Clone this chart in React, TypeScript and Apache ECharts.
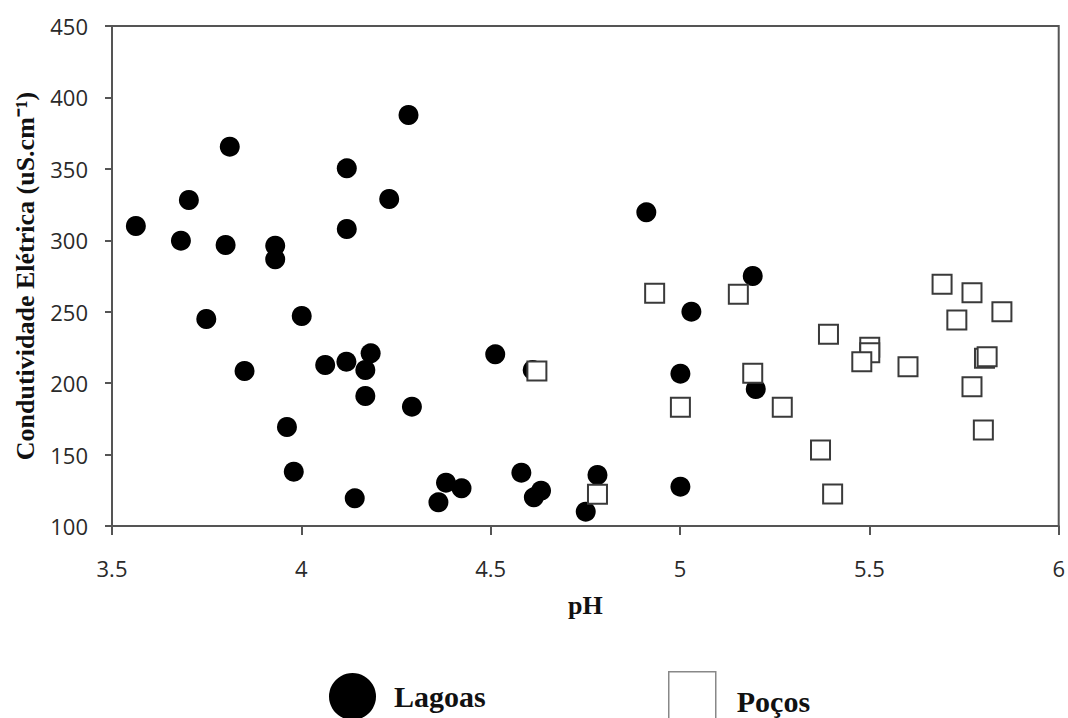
import React, { useEffect, useRef } from "react";
import * as echarts from "echarts";

const lagoasPH = [
  4.283, 3.811, 4.12, 3.703, 4.232, 3.563, 4.12, 3.682, 3.8, 3.931, 3.931, 3.749, 4.001,
  3.85, 4.063, 4.119, 4.183, 4.169, 4.169, 4.292, 3.962, 3.98, 4.141, 4.382, 4.362, 4.423,
  4.911, 5.192, 5.03, 4.512, 4.611, 5.001, 5.2, 4.581, 4.633, 4.614, 4.782, 4.751, 5.001,
];
const lagoasCE = [
  387.7, 365.5, 350.4, 328.2, 328.9, 310, 307.9, 299.7, 296.7, 296.2, 286.7, 244.9, 247,
  208.5, 212.7, 215, 220.9, 209.2, 191, 183.5, 169.3, 138, 119.4, 130.3, 116.6, 126.4,
  319.6, 275, 250, 220.2, 209.2, 206.6, 195.9, 137.3, 124.7, 120.1, 135.7, 110, 127.5,
];
const pocosPH = [
  4.933, 5.154, 4.622, 5.192, 5.001, 4.782, 5.27, 5.371, 5.392, 5.501, 5.501, 5.48, 5.602,
  5.692, 5.771, 5.731, 5.85, 5.804, 5.811, 5.771, 5.801, 5.403,
];
const pocosCE = [
  262.9, 262.2, 208.5, 206.9, 183.1, 122.2, 183.1, 153.2, 234.2, 225.1, 221.3, 215, 211.5,
  269.2, 263.3, 244.2, 250, 217.4, 218.5, 197.5, 167.2, 122.4,
];

const seriesNames = ["Lagoas", "Poços"];
const xTitle = "pH";
const yTitle = "Condutividade Elétrica (uS.cm⁻¹)";

export default function App() {
  const ref = useRef<HTMLDivElement>(null);
  useEffect(() => {
    if (!ref.current) return;
    const chart = echarts.init(ref.current, null, { renderer: "svg" });
    const axisColor = "#555";
    const labelFont = { fontFamily: "Open Sans", fontSize: 22, color: "#2a2a2a" };
    const titleFont = {
      fontFamily: "Liberation Serif",
      fontWeight: "bold" as const,
      fontSize: 26,
      color: "#111",
    };
    const legendText = {
      fontFamily: "Liberation Serif",
      fontWeight: "bold" as const,
      fontSize: 30,
      color: "#111",
    };
    chart.setOption({
      animation: false,
      backgroundColor: "#fff",
      grid: {
        left: 112,
        right: 4,
        top: 26,
        bottom: 192,
        show: true,
        borderColor: axisColor,
        borderWidth: 2,
        backgroundColor: "transparent",
      },
      xAxis: {
        type: "value",
        min: 3.5,
        max: 6,
        interval: 0.5,
        name: xTitle,
        nameLocation: "middle",
        nameGap: 66,
        nameTextStyle: titleFont,
        axisLine: { show: true, lineStyle: { color: axisColor, width: 2 } },
        axisTick: { show: true, length: 9, lineStyle: { color: axisColor, width: 2 } },
        axisLabel: { ...labelFont, margin: 31 },
        splitLine: { show: false },
      },
      yAxis: {
        type: "value",
        min: 100,
        max: 450,
        interval: 50,
        name: yTitle,
        nameLocation: "middle",
        nameGap: 74,
        nameTextStyle: titleFont,
        axisLine: { show: true, lineStyle: { color: axisColor, width: 2 } },
        axisTick: { show: true, length: 7, lineStyle: { color: axisColor, width: 2 } },
        axisLabel: { ...labelFont, margin: 24 },
        splitLine: { show: false },
      },
      legend: [
        {
          data: [{ name: seriesNames[0], icon: "circle" }],
          left: 324,
          top: 668,
          itemWidth: 47,
          itemHeight: 47,
          itemGap: 0,
          itemStyle: { color: "#000", opacity: 1 },
          formatter: "{t|{name}}",
          textStyle: {
            ...legendText,
            rich: { t: { ...legendText, padding: [0, 0, 0, 13] } },
          },
        },
        {
          data: [{ name: seriesNames[1], icon: "rect" }],
          left: 663,
          top: 666,
          itemWidth: 47,
          itemHeight: 50,
          itemStyle: { color: "#fff", borderColor: "#888", borderWidth: 1.5, opacity: 1 },
          formatter: "{t|{name}}",
          textStyle: {
            ...legendText,
            rich: { t: { ...legendText, padding: [9, 0, 0, 16] } },
          },
        },
      ],
      series: [
        {
          name: seriesNames[0],
          type: "scatter",
          symbol: "circle",
          symbolSize: 20,
          itemStyle: { color: "#000", opacity: 1 },
          data: lagoasPH.map((x, i) => [x, lagoasCE[i]]),
        },
        {
          name: seriesNames[1],
          type: "scatter",
          symbol: "rect",
          symbolSize: 19,
          itemStyle: { color: "#fff", borderColor: "#3a3a3a", borderWidth: 2, opacity: 1 },
          data: pocosPH.map((x, i) => [x, pocosCE[i]]),
        },
      ],
    });
    return () => chart.dispose();
  }, []);
  return (
    <div
      ref={ref}
      style={{ position: "fixed", left: 0, top: 0, width: 1068, height: 718, background: "#fff" }}
    />
  );
}
